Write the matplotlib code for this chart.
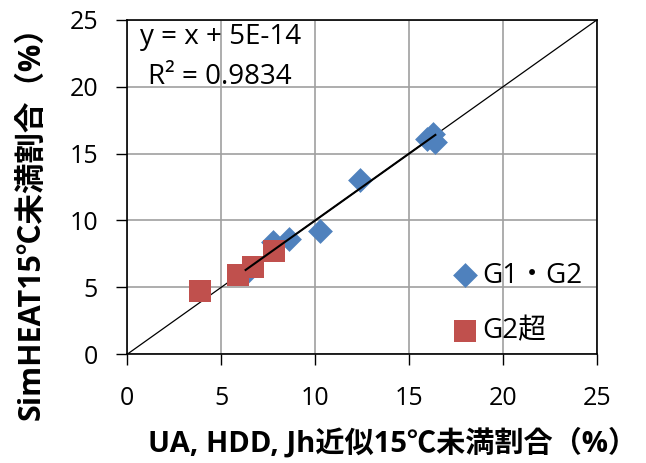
import numpy as np
import matplotlib
matplotlib.use('Agg')
import matplotlib.pyplot as plt

plt.rcParams['font.family'] = ['Open Sans', 'Noto Sans CJK JP', 'DejaVu Sans']

# G1・G2 (blue diamonds)
g12_x = [16.3, 15.95, 16.4, 12.4, 10.25, 8.6, 7.75, 6.3]
g12_y = [16.5, 16.1, 15.85, 13.0, 9.2, 8.6, 8.4, 6.05]
# G2超 (red squares)
g2o_x = [3.85, 5.9, 6.7, 7.8]
g2o_y = [4.75, 5.95, 6.5, 7.7]

ticks = [0, 5, 10, 15, 20, 25]

fig = plt.figure(figsize=(6.46, 4.63), dpi=100)
ax = fig.add_axes([0.197, 0.235, 0.727, 0.722])

# 1:1 line
ax.plot([0, 25], [0, 25], color='black', lw=0.9, zorder=2)

ax.scatter(g12_x, g12_y, marker='D', s=160, color='#4F81BD', label='G1・G2', zorder=3, linewidths=0)
ax.scatter(g2o_x, g2o_y, marker='s', s=260, color='#C0504D', label='G2超', zorder=4, linewidths=0)

# linear trendline of G1・G2  (y = x + 5E-14)
xs = np.array([min(g12_x), max(g12_x)])
ax.plot(xs, xs + 5e-14, color='black', lw=1.5, zorder=5)

ax.text(0.027, 0.95, 'y = x + 5E-14', transform=ax.transAxes, ha='left', va='center', fontsize=20)
ax.text(0.045, 0.83, 'R² = 0.9834', transform=ax.transAxes, ha='left', va='center', fontsize=20)

ax.set_xlim(0, 25)
ax.set_ylim(0, 25)
ax.set_xticks(ticks)
ax.set_yticks(ticks)
ax.tick_params(labelsize=18, direction='out', length=8, width=1)
ax.tick_params(axis='x', pad=15)
ax.tick_params(axis='y', pad=13)
ax.grid(True, color='#A0A0A0', lw=1.2)
ax.set_axisbelow(True)
for s in ax.spines.values():
    s.set_linewidth(1.2)
    s.set_color('black')

ax.set_xlabel('UA, HDD, Jh近似15℃未満割合（%）', fontsize=21, fontweight='bold')
ax.xaxis.set_label_coords(0.565, -0.22)
ax.set_ylabel('SimHEAT15℃未満割合（%）', fontsize=22, fontweight='bold')
ax.yaxis.set_label_coords(-0.172, 0.415)

leg = ax.legend(loc='lower right', frameon=False, fontsize=20, handletextpad=0.1,
                handlelength=1.0, labelspacing=1.0, borderpad=0,
                bbox_to_anchor=(0.998, -0.015), markerscale=1.0)

fig.savefig('out.png', dpi=100)
